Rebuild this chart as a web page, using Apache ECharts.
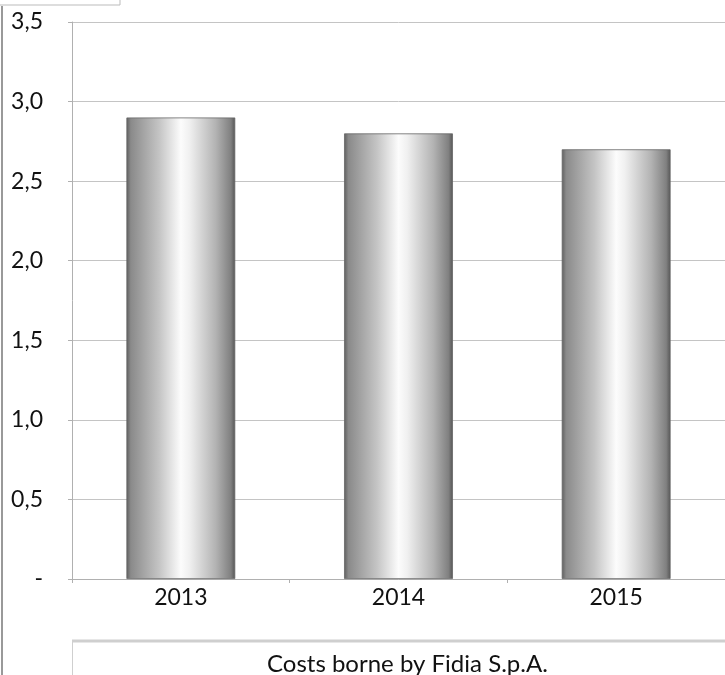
<!DOCTYPE html>
<html><head><meta charset="utf-8">
<script src="https://cdn.jsdelivr.net/npm/echarts@6/dist/echarts.min.js"></script>
<style>html,body{margin:0;padding:0;background:#fff}#c{width:725px;height:675px}</style>
</head><body><div id="c"></div>
<script>
const categories = ['2013', '2014', '2015'];
const costs = [2.9, 2.8, 2.7];
const seriesName = 'Costs borne by Fidia S.p.A.';

const chart = echarts.init(document.getElementById('c'));
const barGrad = new echarts.graphic.LinearGradient(0, 0, 1, 0, [
  {offset: 0, color: '#5e5e5e'},
  {offset: 0.04, color: '#8a8a8a'},
  {offset: 0.3, color: '#c4c4c4'},
  {offset: 0.5, color: '#fcfcfc'},
  {offset: 0.58, color: '#f0f0f0'},
  {offset: 0.82, color: '#b3b3b3'},
  {offset: 0.96, color: '#808080'},
  {offset: 1, color: '#555555'}
]);
chart.setOption({
  animation: false,
  textStyle: {fontFamily: 'Lato'},
  grid: {left: 72, right: 0, top: 22, bottom: 96},
  legend: {
    data: [seriesName],
    top: 647, left: 256,
    itemWidth: 0, itemHeight: 0, itemGap: 0,
    icon: 'rect',
    textStyle: {fontSize: 24, color: '#111', fontFamily: 'Lato'},
    selectedMode: false
  },
  graphic: [
    {type: 'polyline', shape: {points: [[0, 5], [120, 5], [120, 0]]}, style: {stroke: '#bbb', lineWidth: 1, fill: null}},
    {type: 'line', shape: {x1: 2, y1: 6, x2: 2, y2: 675}, style: {stroke: '#555', lineWidth: 1.2}},
    {type: 'line', shape: {x1: 72, y1: 641, x2: 725, y2: 641}, style: {stroke: '#cfcfcf', lineWidth: 3}},
    {type: 'line', shape: {x1: 72.5, y1: 640, x2: 72.5, y2: 675}, style: {stroke: '#cfcfcf', lineWidth: 1}}
  ],
  xAxis: {
    type: 'category',
    data: categories,
    axisLine: {lineStyle: {color: '#b0b0b0'}},
    axisTick: {show: true, length: 4, lineStyle: {color: '#b0b0b0'}},
    axisLabel: {fontSize: 23, color: '#111', margin: 7}
  },
  yAxis: {
    type: 'value',
    min: 0, max: 3.5, interval: 0.5,
    axisLine: {show: true, lineStyle: {color: '#b0b0b0'}},
    axisTick: {show: true, length: 4, lineStyle: {color: '#b0b0b0'}},
    splitLine: {lineStyle: {color: '#c4c4c4'}},
    axisLabel: {
      fontSize: 23, color: '#111', margin: 29,
      formatter: v => v === 0 ? '-' : v.toFixed(1).replace('.', ',')
    }
  },
  series: [{
    name: seriesName,
    type: 'bar',
    data: costs,
    barWidth: '50%',
    itemStyle: {color: barGrad, borderColor: '#666', borderWidth: 0.8}
  }]
});
</script></body></html>
